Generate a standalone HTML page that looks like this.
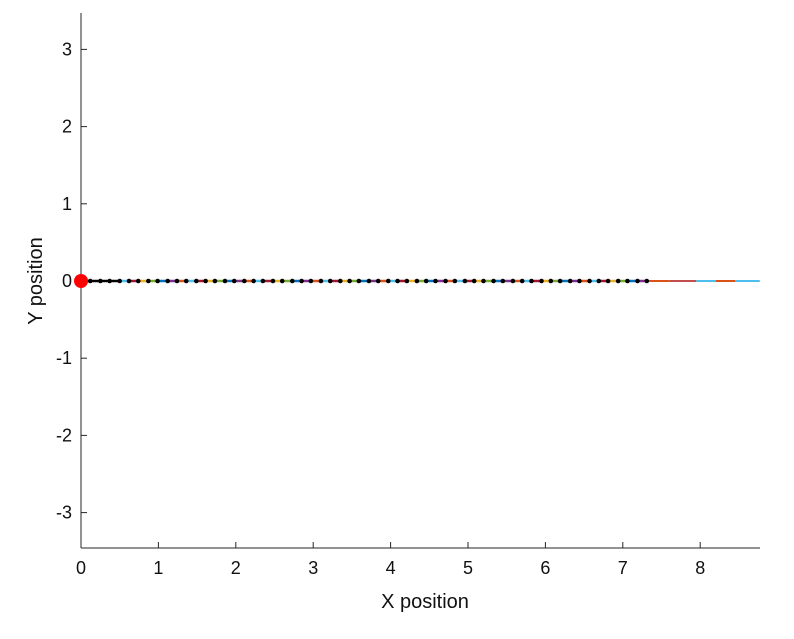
<!DOCTYPE html>
<html><head><meta charset="utf-8"><style>
body{margin:0;background:#fff;}
svg text{font-family:"Liberation Sans","DejaVu Sans",sans-serif;fill:#111;}
</style></head><body>
<svg id="chart" width="794" height="634" xmlns="http://www.w3.org/2000/svg"></svg>
<script>
const xTicks=[0,1,2,3,4,5,6,7,8];
const yTicks=[-3,-2,-1,0,1,2,3];
const pathX=[0,0.12,0.25,0.37,0.50,0.62,0.74,0.87,0.99,1.12,1.24,1.36,1.49,1.61,1.73,1.86,1.98,2.11,2.23,2.35,2.48,2.60,2.73,2.85,2.97,3.10,3.22,3.35,3.47,3.59,3.72,3.84,3.97,4.09,4.21,4.34,4.46,4.58,4.71,4.83,4.96,5.08,5.20,5.33,5.45,5.58,5.70,5.82,5.95,6.07,6.19,6.32,6.44,6.57,6.69,6.81,6.94,7.06,7.19,7.31];
const pathY=pathX.map(()=>0);
const tailX=[7.31,7.6,7.95,8.2,8.45,8.77];
const tailY=[0,0,0,0,0,0];
const startPoint=[0,0];
const segColors=["#77AC30","#0072BD","#7E2F8E","#D95319","#4DBEEE","#A2142F","#EDB120"];
const tailColors=["#D95319","#C0504D","#4DBEEE","#D95319","#4DBEEE","#EE8040"];

const NS="http://www.w3.org/2000/svg";
const svg=document.getElementById('chart');
const L=81,R=760,T=13,B=548;
const xs=v=>L+v*77.4;
const ys=v=>281-v*77.2;
function mk(tag,attrs,parent){const e=document.createElementNS(NS,tag);for(const k in attrs)e.setAttribute(k,attrs[k]);(parent||svg).appendChild(e);return e;}

const axes=mk('g',{});


const xAxis=mk('line',{x1:L,y1:B,x2:R,y2:B,stroke:'#262626','stroke-width':1},axes);


const yAxis=mk('line',{x1:L,y1:T,x2:L,y2:B,stroke:'#262626','stroke-width':1},axes);


xTicks.forEach(t=>{
  mk('line',{x1:xs(t),y1:B,x2:xs(t),y2:B-6,stroke:'#262626'},axes);
  const tx=mk('text',{x:xs(t),y:B+26,'text-anchor':'middle','font-size':18},axes);
  tx.textContent=t;
  
  
});
yTicks.forEach(t=>{
  mk('line',{x1:L,y1:ys(t),x2:L+6,y2:ys(t),stroke:'#262626'},axes);
  const tx=mk('text',{x:L-9,y:ys(t)+6,'text-anchor':'end','font-size':18},axes);
  tx.textContent=t;
  
  
});
const xl=mk('text',{x:425,y:608,'text-anchor':'middle','font-size':20});
xl.textContent='X position';


const yl=mk('text',{x:0,y:0,'text-anchor':'middle','font-size':20,transform:'translate(42,281) rotate(-90)'});
yl.textContent='Y position';



const traj=mk('g',{});


for(let i=0;i<tailX.length-1;i++){
  const s=mk('line',{x1:xs(tailX[i]),y1:ys(tailY[i]),x2:xs(tailX[i+1]),y2:ys(tailY[i+1]),stroke:tailColors[i%tailColors.length],'stroke-width':2},traj);
  
  
}
for(let i=0;i<pathX.length-1;i++){
  const c=i<4?'#000':segColors[i%segColors.length];
  const s=mk('line',{x1:xs(pathX[i]),y1:ys(pathY[i]),x2:xs(pathX[i+1]),y2:ys(pathY[i+1]),stroke:c,'stroke-width':2.5},traj);
  
  
}
const st=mk('circle',{cx:xs(startPoint[0]),cy:ys(startPoint[1]),r:7,fill:'#f00'});


pathX.forEach((x,i)=>{
  const d=mk('circle',{cx:xs(x),cy:ys(pathY[i]),r:2.3,fill:'#000'},traj);
  
  
});
</script>
</body></html>
